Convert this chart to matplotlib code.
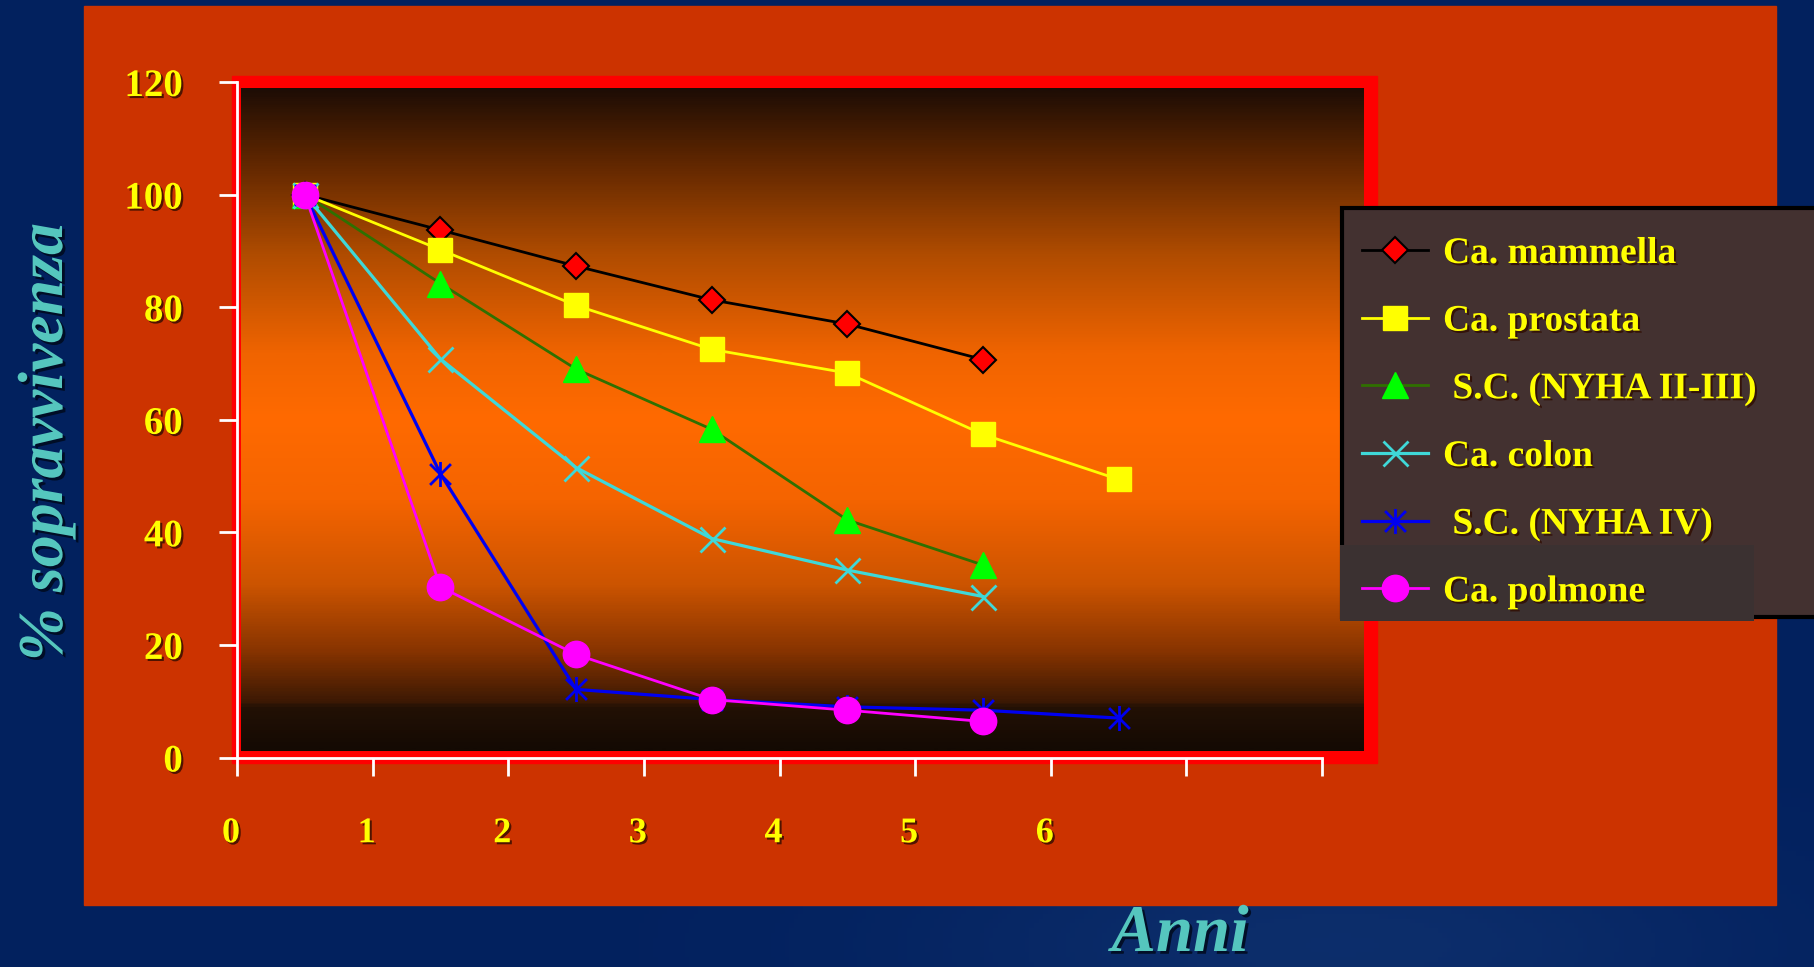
import matplotlib
matplotlib.use("Agg")
import matplotlib.pyplot as plt
import numpy as np
from matplotlib.colors import LinearSegmentedColormap
from matplotlib.patches import Rectangle
from matplotlib.path import Path
from matplotlib.transforms import ScaledTranslation
from matplotlib.font_manager import FontProperties
from matplotlib import patheffects as pe

# survival (%) by year of follow-up
anni = [0.5, 1.5, 2.5, 3.5, 4.5, 5.5, 6.5]
mammella = [100, 93.7, 87.3, 81.3, 77.0, 70.7]
prostata = [100, 90.2, 80.3, 72.5, 68.3, 57.4, 49.4]
nyha_2_3 = [100, 84.2, 69.0, 58.3, 42.2, 34.2]
colon = [100, 70.8, 51.5, 38.9, 33.3, 28.6]
nyha_4 = [100, 50.4, 12.1, 10.3, 9.0, 8.4, 7.0]
polmone = [100, 30.3, 18.3, 10.3, 8.4, 6.4]

x_ticks = [0, 1, 2, 3, 4, 5, 6, 7, 8]
x_labels = ["0", "1", "2", "3", "4", "5", "6", "", ""]
y_ticks = [0, 20, 40, 60, 80, 100, 120]

W, H = 1814, 967


def frect(x0, y0, x1, y1):
    return [x0 / W, 1 - y1 / H, (x1 - x0) / W, (y1 - y0) / H]


def fig_box(x0, y0, x1, y1, **kw):
    r = frect(x0, y0, x1, y1)
    return Rectangle(r[:2], r[2], r[3], transform=fig.transFigure, **kw)


fig = plt.figure(figsize=(W / 100, H / 100), dpi=100)
fig.patch.set_facecolor("#03225f")

# blue slide background with a faint lighter spot
bg = fig.add_axes([0, 0, 1, 1], zorder=-10)
bg.axis("off")
yy, xx = np.mgrid[0:1:200j, 0:1:400j]
spot = np.exp(-(((xx - 0.74) / 0.22) ** 2 + ((yy - 0.98) / 0.12) ** 2))
c0 = np.array([0.01, 0.13, 0.37])
c1 = np.array([0.05, 0.18, 0.42])
bg.imshow(c0 + (c1 - c0) * spot[..., None], extent=[0, 1, 0, 1], aspect="auto")

# orange panel and red plot frame
fig.add_artist(fig_box(84, 6, 1776, 905, color="#CC3300", zorder=-9))
fig.add_artist(fig_box(232, 76, 1377, 763, color="#FF0000", zorder=-8))

# dark -> orange -> dark plot area fill
grad = fig.add_axes(frect(241, 88, 1364, 751), zorder=-7)
grad.axis("off")
stops = [(0.00, "#1e0d05"), (0.10, "#5a2400"), (0.25, "#b04c00"), (0.40, "#f06400"),
         (0.50, "#ff6a00"), (0.62, "#f56400"), (0.75, "#cc5400"), (0.85, "#883400"),
         (0.93, "#3a1804"), (0.935, "#231105"), (1.00, "#140a03")]
cmap = LinearSegmentedColormap.from_list("fill", stops)
grad.imshow(np.linspace(0, 1, 600)[:, None], cmap=cmap, aspect="auto",
            extent=[0, 1, 0, 1])

ax = fig.add_axes(frect(237, 82, 1322, 757.5), zorder=0)
ax.set_facecolor("none")

asterisk = Path([(-0.5, -0.5), (0.5, 0.5), (-0.5, 0.5), (0.5, -0.5), (0, -0.6), (0, 0.6)],
                [Path.MOVETO, Path.LINETO, Path.MOVETO, Path.LINETO, Path.MOVETO, Path.LINETO])

lines = []
lines += ax.plot(anni[:len(mammella)], mammella, color="black", lw=2, marker="D", ms=13.5,
                 mfc="#FF0000", mec="black", mew=1.5, label="Ca. mammella")
lines += ax.plot(anni[:len(prostata)], prostata, color="#FFFF00", lw=2, marker="s", ms=17,
                 mfc="#FFFF00", mec="#FFFF00", label="Ca. prostata")
lines += ax.plot(anni[:len(nyha_2_3)], nyha_2_3, color="#2f7000", lw=2, marker="^", ms=19,
                 mfc="#00FF00", mec="#00FF00", label=" S.C. (NYHA II-III)")
lines += ax.plot(anni[:len(colon)], colon, color="#3FD8D8", lw=2.3, marker="x", ms=18,
                 mew=2, label="Ca. colon")
lines += ax.plot(anni[:len(nyha_4)], nyha_4, color="#0000F0", lw=2.3, marker=asterisk, ms=18,
                 mew=2, label=" S.C. (NYHA IV)")
lines += ax.plot(anni[:len(polmone)], polmone, color="#FF00FF", lw=2, marker="o", ms=19,
                 mfc="#FF00FF", mec="#FF00FF", label="Ca. polmone")

ax.set_xlim(0, 8)
ax.set_ylim(0, 120)
ax.set_xticks(x_ticks)
ax.set_xticklabels(x_labels)
ax.set_yticks(y_ticks)

for side in ["top", "right"]:
    ax.spines[side].set_visible(False)
for side in ["left", "bottom"]:
    ax.spines[side].set_color("white")
    ax.spines[side].set_linewidth(2)

ax.tick_params(axis="both", direction="out", length=13, width=2, color="white",
               labelcolor="#FFFF00")
ax.tick_params(axis="x", pad=30)
ax.tick_params(axis="y", pad=26)

shadow = [pe.withSimplePatchShadow(offset=(1.5, -1.5), shadow_rgbFace="#300c00", alpha=0.8)]
shift = ScaledTranslation(-6 / 100, 0, fig.dpi_scale_trans)
for lbl in ax.get_xticklabels():
    lbl.set_fontproperties(FontProperties(family="Liberation Serif", weight="bold", size=26))
    lbl.set_path_effects(shadow)
    lbl.set_transform(lbl.get_transform() + shift)
for lbl in ax.get_yticklabels():
    lbl.set_fontproperties(FontProperties(family="Liberation Serif", weight="bold", size=28))
    lbl.set_path_effects(shadow)

# legend box
fig.add_artist(fig_box(1342, 208, 1830, 617, facecolor="#433130", edgecolor="black",
                       lw=3, zorder=1))
fig.add_artist(fig_box(1340, 545, 1754, 621, facecolor="#3b3131", edgecolor="none",
                       zorder=1.1))

leg_font = FontProperties(family="Liberation Serif", weight="bold", size=27)
leg = fig.legend(handles=lines, loc="upper left", bbox_to_anchor=(1362 / W, 1 - 236 / H),
                 frameon=False, prop=leg_font, handlelength=1.76, handletextpad=0.4,
                 labelspacing=0.87, borderpad=0, borderaxespad=0, labelcolor="#FFFF00")
for t in leg.get_texts():
    t.set_path_effects(shadow)

label_font = FontProperties(family="Liberation Serif", weight="bold", style="italic", size=46)
label_shadow = [pe.withSimplePatchShadow(offset=(2, -2), shadow_rgbFace="#000818", alpha=0.8)]
fig.text(47 / W, 1 - 442 / H, "% sopravvivenza", rotation=90, ha="center", va="center",
         color="#55C6BE", fontproperties=label_font, path_effects=label_shadow, zorder=3)
fig.text(1180 / W, 1 - 951 / H, "Anni", ha="center", va="baseline", color="#55C6BE",
         fontproperties=FontProperties(family="Liberation Serif", weight="bold",
                                       style="italic", size=48),
         path_effects=label_shadow, zorder=3)

fig.savefig("out.png", dpi=100, facecolor=fig.get_facecolor())
